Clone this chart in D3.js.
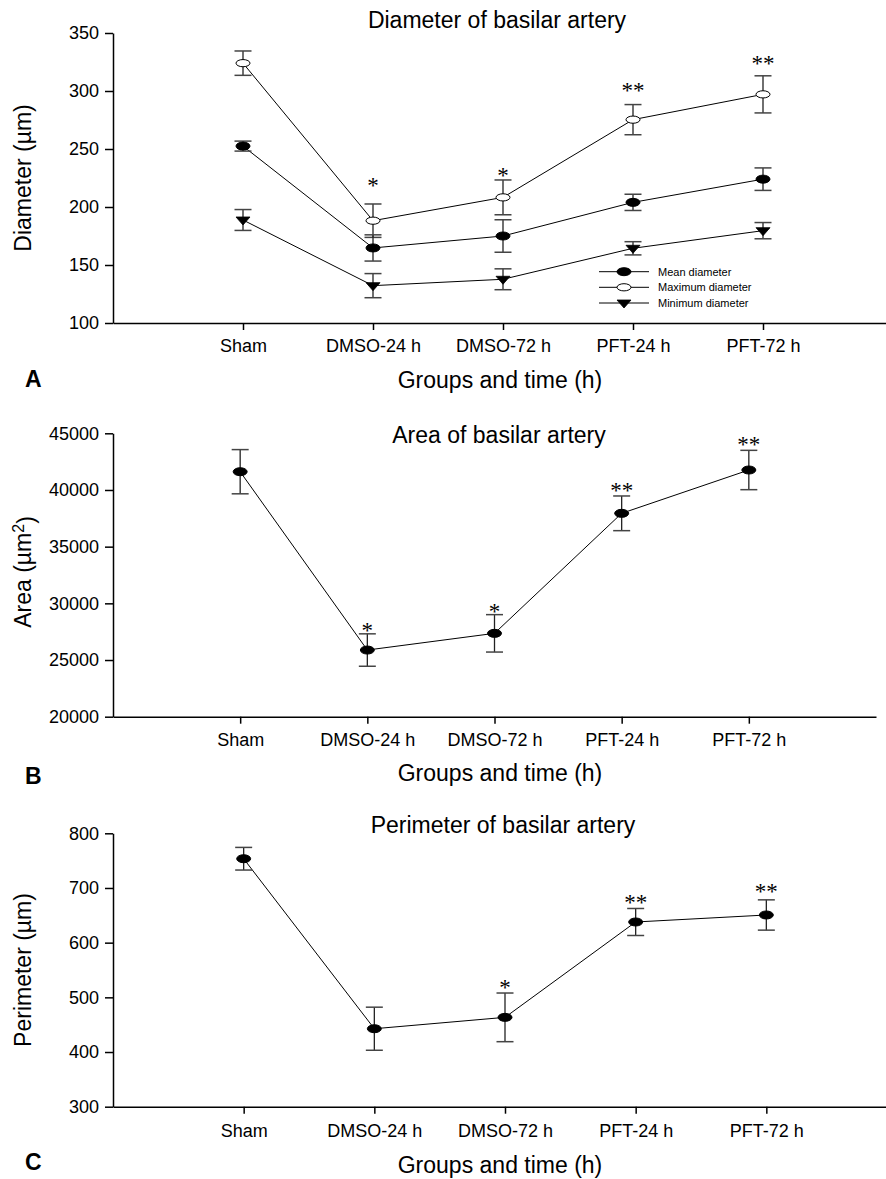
<!DOCTYPE html>
<html>
<head>
<meta charset="utf-8">
<script src="https://cdn.jsdelivr.net/npm/d3@7"></script>
<style>
  html, body { margin: 0; padding: 0; background: #fff; }
  svg { display: block; }
  text { font-family: "Liberation Sans", Arial, Helvetica, sans-serif; fill: #000; }
</style>
</head>
<body>
<svg id="chart" width="886" height="1179"></svg>
<script>
// ---------- DATA ----------
const groups = ["Sham", "DMSO-24 h", "DMSO-72 h", "PFT-24 h", "PFT-72 h"];

// Panel A: diameter (µm), mean ± error
const meanDiameter    = [252.5, 164.7, 175.0, 204.0, 224.0];
const meanDiameterErr = [4.3, 11.3, 14.0, 7.0, 9.7];
const maxDiameter     = [324.0, 188.2, 208.3, 275.3, 297.1];
const maxDiameterErr  = [10.5, 14.4, 15.0, 13.0, 16.0];
const minDiameter     = [188.8, 132.2, 137.7, 164.4, 179.6];
const minDiameterErr  = [9.0, 10.4, 9.0, 5.7, 7.0];
const diameterTicks   = [100, 150, 200, 250, 300, 350];
const diameterSig     = ["", "*", "*", "**", "**"];
const diameterSigAt   = [null, 221.8, 230.4, 303.2, 326.7];

// Panel B: area (µm²)
const area       = [41612, 25880, 27353, 37941, 41762];
const areaErr    = [1950, 1430, 1650, 1530, 1735];
const areaTicks  = [20000, 25000, 30000, 35000, 40000, 45000];
const areaSig    = ["", "*", "*", "**", "**"];
const areaSigAt  = [null, 27935, 29559, 40235, 44321];

// Panel C: perimeter (µm)
const perimeter      = [753.5, 442.6, 463.4, 637.8, 650.6];
const perimeterErr   = [20.7, 39.4, 44.5, 24.7, 27.7];
const perimeterTicks = [300, 400, 500, 600, 700, 800];
const perimeterSig   = ["", "", "*", "**", "**"];
const perimeterSigAt = [null, null, 524.4, 679.3, 699.4];

const legendLabels = ["Mean diameter", "Maximum diameter", "Minimum diameter"];

// ---------- DRAWING ----------
const svg = d3.select("#chart");

function drawMarker(g, type, cx, cy) {
  if (type === "filled") {
    g.append("ellipse").attr("cx", cx).attr("cy", cy).attr("rx", 7).attr("ry", 4)
      .attr("fill", "#000").attr("stroke", "#000").attr("stroke-width", 1);
  } else if (type === "open") {
    g.append("ellipse").attr("cx", cx).attr("cy", cy).attr("rx", 7).attr("ry", 3.6)
      .attr("fill", "#fff").attr("stroke", "#000").attr("stroke-width", 1);
  } else {
    g.append("path")
      .attr("d", `M${cx - 7},${cy - 3} L${cx + 7},${cy - 3} L${cx},${cy + 5} Z`)
      .attr("fill", "#000").attr("stroke", "#000").attr("stroke-width", 0.8);
  }
}

function panel(cfg) {
  const g = svg.append("g");
  const x = d3.scaleLinear().domain([0, 6]).range([113, cfg.xEnd]);
  const y = d3.scaleLinear().domain(cfg.yDomain).range([cfg.yBottom, cfg.yTop]);

  // axes
  const yAxis = d3.axisLeft(y).tickValues(cfg.yTicks).tickSize(8).tickPadding(6).tickSizeOuter(0)
    .tickFormat(d3.format("d"));
  const ya = g.append("g").attr("transform", `translate(113,0)`).call(yAxis);
  ya.selectAll("text").style("font-size", "18px").attr("fill", "#000");
  ya.selectAll("line, path").attr("stroke", "#000").attr("stroke-width", 1.5);

  const xAxis = d3.axisBottom(x).tickValues([1, 2, 3, 4, 5]).tickSize(7).tickPadding(cfg.xPad)
    .tickSizeOuter(0).tickFormat(d => groups[d - 1]);
  const xa = g.append("g").attr("transform", `translate(0,${cfg.yBottom})`).call(xAxis);
  xa.selectAll("text").style("font-size", "18px").attr("fill", "#000");
  xa.selectAll("line, path").attr("stroke", "#000").attr("stroke-width", 1.5);

  // series
  cfg.series.forEach(s => {
    const pts = s.values.map((v, i) => [x(i + 1), y(v)]);
    g.append("path").attr("d", d3.line()(pts)).attr("fill", "none")
      .attr("stroke", "#000").attr("stroke-width", 1);
  });
  cfg.series.forEach(s => {
    s.values.forEach((v, i) => {
      const cx = x(i + 1);
      const top = y(v + s.err[i]), bot = y(v - s.err[i]);
      g.append("line").attr("x1", cx).attr("x2", cx).attr("y1", top).attr("y2", bot)
        .attr("stroke", "#222").attr("stroke-width", 1.3);
      [top, bot].forEach(yy => {
        g.append("line").attr("x1", cx - 8.5).attr("x2", cx + 8.5).attr("y1", yy).attr("y2", yy)
          .attr("stroke", "#444").attr("stroke-width", 1.5);
      });
    });
  });
  cfg.series.forEach(s => {
    s.values.forEach((v, i) => drawMarker(g, s.marker, x(i + 1), y(v)));
  });

  // significance marks
  cfg.sig.forEach((t, i) => {
    if (!t) return;
    g.append("text").attr("x", x(i + 1)).attr("y", y(cfg.sigAt[i]) + 11)
      .attr("text-anchor", "middle")
      .style("font-family", "'Liberation Serif', 'Times New Roman', serif")
      .style("font-size", "23px").attr("fill", "#555").text(t);
  });

  // title
  g.append("text").attr("x", cfg.titleX).attr("y", cfg.titleY).attr("text-anchor", "middle")
    .style("font-size", "23px").text(cfg.title);

  // y label
  const yl = g.append("text")
    .attr("transform", `translate(31,${cfg.yLabelY}) rotate(-90)`)
    .attr("text-anchor", "middle").style("font-size", "23px");
  cfg.yLabel(yl);

  // x label
  g.append("text").attr("x", 500).attr("y", cfg.xLabelY).attr("text-anchor", "middle")
    .style("font-size", "23px").text("Groups and time (h)");

  // panel letter
  g.append("text").attr("x", 25).attr("y", cfg.letterY).style("font-size", "23px")
    .style("font-weight", "bold").text(cfg.letter);

  return { g, x, y };
}

const A = panel({
  xEnd: 893, yDomain: [100, 350], yTop: 33, yBottom: 323, yTicks: diameterTicks, xPad: 9,
  series: [
    { values: maxDiameter, err: maxDiameterErr, marker: "open" },
    { values: meanDiameter, err: meanDiameterErr, marker: "filled" },
    { values: minDiameter, err: minDiameterErr, marker: "tri" }
  ],
  sig: diameterSig, sigAt: diameterSigAt,
  title: "Diameter of basilar artery", titleX: 497, titleY: 28,
  yLabelY: 178, yLabel: t => t.text("Diameter (µm)"),
  xLabelY: 388, letter: "A", letterY: 387
});

// legend for panel A
const legendMarkers = ["filled", "open", "tri"];
const legendRowY = [271.7, 287.3, 303];
legendLabels.forEach((lab, i) => {
  const lg = A.g.append("g");
  lg.append("line").attr("x1", 599).attr("x2", 649).attr("y1", legendRowY[i]).attr("y2", legendRowY[i])
    .attr("stroke", "#000").attr("stroke-width", 1);
  drawMarker(lg, legendMarkers[i], 624, legendRowY[i]);
  lg.append("text").attr("x", 658).attr("y", legendRowY[i] + 4).style("font-size", "11px").text(lab);
});

panel({
  xEnd: 876, yDomain: [20000, 45000], yTop: 433.3, yBottom: 716.7, yTicks: areaTicks, xPad: 10,
  series: [{ values: area, err: areaErr, marker: "filled" }],
  sig: areaSig, sigAt: areaSigAt,
  title: "Area of basilar artery", titleX: 499, titleY: 443,
  yLabelY: 572, yLabel: t => {
    t.append("tspan").text("Area (µm");
    t.append("tspan").attr("dy", "-0.45em").style("font-size", "16px").text("2");
    t.append("tspan").attr("dy", "0.45em").text(")");
  },
  xLabelY: 781, letter: "B", letterY: 784
});

panel({
  xEnd: 897, yDomain: [300, 800], yTop: 833.3, yBottom: 1106.7, yTicks: perimeterTicks, xPad: 11,
  series: [{ values: perimeter, err: perimeterErr, marker: "filled" }],
  sig: perimeterSig, sigAt: perimeterSigAt,
  title: "Perimeter of basilar artery", titleX: 503, titleY: 833,
  yLabelY: 970, yLabel: t => t.text("Perimeter (µm)"),
  xLabelY: 1173, letter: "C", letterY: 1170
});
</script>
</body>
</html>
